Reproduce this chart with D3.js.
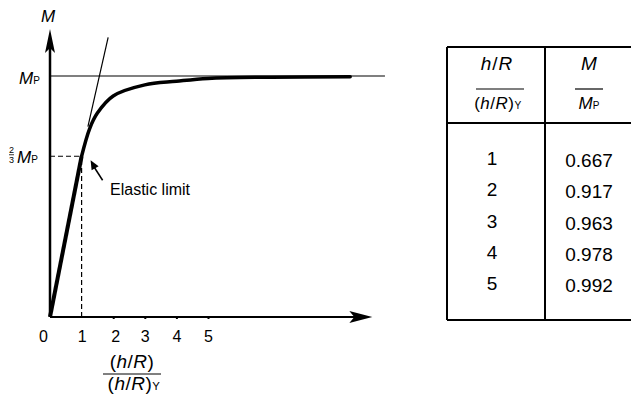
<!DOCTYPE html>
<html>
<head>
<meta charset="utf-8">
<script src="https://cdn.jsdelivr.net/npm/d3@7"></script>
<style>
  body { margin: 0; background: #fff; }
  svg { display: block; font-family: "Liberation Sans", Arial, sans-serif; }
</style>
</head>
<body>
<svg id="chart"></svg>
<script>
// table values (h/R)/(h/R)Y vs M/Mp
const tableK = [1, 2, 3, 4, 5];
const tableM = ["0.667", "0.917", "0.963", "0.978", "0.992"];

// curve
const elasticK = [0, 1];
const elasticM = [0, 0.667];
const plasticK = [1, 1.25, 1.5, 2, 3, 4, 5, 7, 9.5];
const plasticM = [0.667, 0.78, 0.846, 0.917, 0.963, 0.978, 0.99, 0.995, 0.997];
const tangentK = [1.2, 1.84];
const tangentM = [0.79, 1.16];

const tickValues = [0, 1, 2, 3, 4, 5];
const xAxisMax = 10.2, yAxisMax = 1.195, mpLineMax = 10.6;

const width = 631, height = 399;
const svg = d3.select('#chart').attr('width', width).attr('height', height);

const x = d3.scaleLinear().domain([0, 5]).range([50, 208]);
const y = d3.scaleLinear().domain([0, 1]).range([317, 76]);

const line = d3.line().x(d => x(d[0])).y(d => y(d[1]));

// Mp level line
svg.append('path')
    .attr('d', line([[0, 1], [mpLineMax, 1]]))
    .attr('stroke', '#555').attr('stroke-width', 1.5).attr('fill', 'none');

// dashed guides at elastic limit
svg.append('path')
    .attr('d', line([[0, 0.667], [1, 0.667]]))
    .attr('stroke', '#000').attr('stroke-width', 1.2).attr('stroke-dasharray', '5,3').attr('fill', 'none');
svg.append('path')
    .attr('d', line([[1, 0], [1, 0.667]]))
    .attr('stroke', '#000').attr('stroke-width', 1.2).attr('stroke-dasharray', '5,3').attr('fill', 'none');

// axes lines
svg.append('path')
    .attr('d', line([[0, 0], [0, yAxisMax - 0.05]]))
    .attr('stroke', '#000').attr('stroke-width', 2.5);
svg.append('path')
    .attr('d', line([[0, 0], [xAxisMax - 0.3, 0]]))
    .attr('stroke', '#000').attr('stroke-width', 2);

// arrow heads
const yt = y(yAxisMax), x0 = x(0);
svg.append('path')
    .attr('d', `M${x0},${yt} L${x0 + 5},${yt + 24} L${x0},${yt + 19} L${x0 - 5},${yt + 24} Z`)
    .attr('fill', '#000');
const xt = x(xAxisMax), y0 = y(0);
svg.append('path')
    .attr('d', `M${xt},${y0} L${xt - 23},${y0 - 6} L${xt - 18},${y0} L${xt - 23},${y0 + 6} Z`)
    .attr('fill', '#000');

// x axis ticks and labels
const xAxis = d3.axisBottom(x).tickValues(tickValues).tickFormat(d3.format('d'))
    .tickSizeInner(2).tickSizeOuter(0).tickPadding(12);
const gx = svg.append('g').attr('transform', `translate(0,${y0})`).call(xAxis);
gx.select('.domain').remove();
gx.selectAll('.tick line').attr('stroke-width', 2).attr('opacity', (d) => d > 1 ? 1 : 0);
gx.selectAll('.tick text')
    .attr('font-size', 16).attr('fill', '#000')
    .attr('font-family', '"Liberation Sans", Arial, sans-serif')
    .attr('dx', d => d === 0 ? -7 : (d === 2 ? 2 : 0));

// elastic part and plastic curve
svg.append('path')
    .attr('d', line(elasticK.map((k, i) => [k, elasticM[i]])))
    .attr('stroke', '#000').attr('stroke-width', 4).attr('fill', 'none');
const curveLine = d3.line().x(d => x(d[0])).y(d => y(d[1])).curve(d3.curveCatmullRom.alpha(0.5));
svg.append('path')
    .attr('d', curveLine(plasticK.map((k, i) => [k, plasticM[i]])))
    .attr('stroke', '#000').attr('stroke-width', 3.5).attr('fill', 'none').attr('stroke-linecap', 'round');
svg.append('path')
    .attr('d', line(tangentK.map((k, i) => [k, tangentM[i]])))
    .attr('stroke', '#000').attr('stroke-width', 1.2).attr('fill', 'none');

// elastic limit arrow + label
const ex = x(1) + 9, ey = y(0.667) + 4;
svg.append('path')
    .attr('d', `M${ex + 12},${ey + 20} L${ex + 3},${ey + 6}`)
    .attr('stroke', '#000').attr('stroke-width', 1.5);
svg.append('path')
    .attr('d', `M${ex},${ey} L${ex + 8},${ey + 6} L${ex + 1},${ey + 10} Z`)
    .attr('fill', '#000');
svg.append('text').attr('x', 110).attr('y', 195).attr('font-size', 16).text('Elastic limit');

// y labels
svg.append('text').attr('x', 48).attr('y', 22).attr('text-anchor', 'middle')
    .attr('font-size', 17).attr('font-style', 'italic').text('M');

function mpLabel(g, xPos, yPos, size, sub) {
    const t = g.append('text').attr('x', xPos).attr('y', yPos).attr('font-size', size);
    t.append('tspan').attr('font-style', 'italic').text('M');
    t.append('tspan').attr('font-size', sub).text('P');
    return t;
}
mpLabel(svg, 19, y(1) + 8, 17, 10);
mpLabel(svg, 17, y(0.667) + 7, 17, 10);
svg.append('text').attr('x', 11.5).attr('y', y(0.667) - 3).attr('font-size', 9).attr('text-anchor', 'middle').text('2');
svg.append('text').attr('x', 11.5).attr('y', y(0.667) + 7).attr('font-size', 9).attr('text-anchor', 'middle').text('3');
svg.append('line').attr('x1', 9).attr('x2', 14).attr('y1', y(0.667) - 1.5).attr('y2', y(0.667) - 1.5)
    .attr('stroke', '#000').attr('stroke-width', 0.8);

// x axis title fraction
function hrLabel(g, cx, yPos, size, withSub) {
    const t = g.append('text').attr('x', cx).attr('y', yPos).attr('font-size', size)
        .attr('text-anchor', 'middle').attr('letter-spacing', 0.5);
    t.append('tspan').text('(');
    t.append('tspan').attr('font-style', 'italic').text('h');
    t.append('tspan').text('/');
    t.append('tspan').attr('font-style', 'italic').text('R');
    t.append('tspan').text(')');
    if (withSub) t.append('tspan').attr('font-size', size * 0.6).text('Y');
    return t;
}
hrLabel(svg, 132, 368, 19, false);
svg.append('line').attr('x1', 103).attr('x2', 161).attr('y1', 374).attr('y2', 374)
    .attr('stroke', '#000').attr('stroke-width', 1);
hrLabel(svg, 134, 390, 19, true);

// table
const tbl = svg.append('g');
const tL = 447, tR = 632, tT = 47, tB = 320, tDiv = 545, tHead = 123;
[[tL, tT, tR, tT], [tL, tB, tR, tB], [tL, tT, tL, tB], [tDiv, tT, tDiv, tB], [tL, tHead, tR, tHead]]
    .forEach(([x1, y1, x2, y2]) => {
        tbl.append('line').attr('x1', x1).attr('y1', y1).attr('x2', x2).attr('y2', y2)
            .attr('stroke', '#000').attr('stroke-width', 2);
    });

const c1 = 497, c2 = 589;
const h1 = tbl.append('text').attr('x', c1).attr('y', 70).attr('font-size', 19)
    .attr('text-anchor', 'middle').attr('letter-spacing', 1);
h1.append('tspan').attr('font-style', 'italic').text('h');
h1.append('tspan').text('/');
h1.append('tspan').attr('font-style', 'italic').text('R');
tbl.append('line').attr('x1', 476).attr('x2', 524).attr('y1', 89).attr('y2', 89).attr('stroke', '#000').attr('stroke-width', 1.2);
hrLabel(tbl, c1 + 1, 109, 17, true);

tbl.append('text').attr('x', c2).attr('y', 70).attr('font-size', 19).attr('text-anchor', 'middle')
    .attr('font-style', 'italic').text('M');
tbl.append('line').attr('x1', 575).attr('x2', 603).attr('y1', 89).attr('y2', 89).attr('stroke', '#000').attr('stroke-width', 1.2);
mpLabel(tbl, c2, 109, 17, 10).attr('text-anchor', 'middle');

const rowY = d3.scaleLinear().domain([1, 5]).range([165, 290]);
tbl.selectAll('text.k').data(tableK).enter().append('text')
    .attr('class', 'k').attr('x', 492).attr('y', d => rowY(d))
    .attr('font-size', 19).attr('text-anchor', 'middle').text(d => d);
tbl.selectAll('text.m').data(tableM).enter().append('text')
    .attr('class', 'm').attr('x', c2).attr('y', (d, i) => rowY(tableK[i]) + 2)
    .attr('font-size', 19).attr('text-anchor', 'middle').text(d => d);
</script>
</body>
</html>
